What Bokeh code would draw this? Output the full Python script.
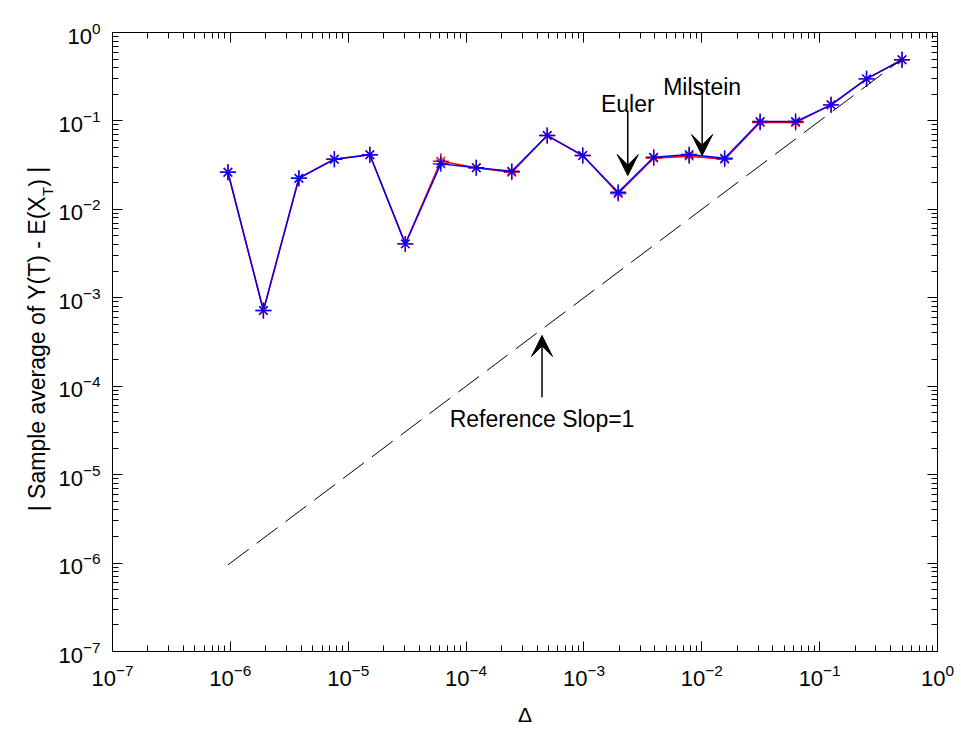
from bokeh.plotting import figure
from bokeh.layouts import row
from bokeh.models import (Range1d, LogAxis, FixedTicker, Label, Arrow, VeeHead,
                          CustomJSTickFormatter)
from bokeh.embed import file_html
from bokeh.resources import INLINE

# Step sizes (Delta = 2^-20 ... 2^-1)
delta = [9.5367e-07, 1.9073e-06, 3.8147e-06, 7.6294e-06, 1.5259e-05,
         3.0518e-05, 6.1035e-05, 1.2207e-04, 2.4414e-04, 4.8828e-04,
         9.7656e-04, 1.9531e-03, 3.9063e-03, 7.8125e-03, 1.5625e-02,
         3.1250e-02, 6.2500e-02, 0.125, 0.25, 0.5]

# |sample mean of Y(T) - E(X_T)| for each scheme
milstein_err = [0.0263, 0.000718, 0.0225, 0.0369, 0.0414,
                0.00407, 0.0327, 0.0295, 0.0270, 0.0684,
                0.0406, 0.0156, 0.0389, 0.0417, 0.0379,
                0.0985, 0.0985, 0.152, 0.299, 0.491]
euler_err = [0.0263, 0.000718, 0.0225, 0.0369, 0.0414,
             0.00407, 0.0350, 0.0295, 0.0262, 0.0684,
             0.0406, 0.0151, 0.0380, 0.0400, 0.0368,
             0.0960, 0.0960, 0.152, 0.299, 0.491]

# Reference line of slope 1 (error = Delta)
ref_delta = [9.5367e-07, 0.5]
ref_err = [9.5367e-07, 0.5]

# Decade ticks on both axes
tick_exponents = [-7, -6, -5, -4, -3, -2, -1, 0]

FONT = "Liberation Sans"
BLUE = "#0000ff"
RED = "#ff0000"
W_TOTAL, H_TOTAL = 961, 729
LABEL_W = 55                 # strip holding the rotated y-axis title
TOP, BOTTOM = 32, 78         # borders above / below the plotting frame

p = figure(width=W_TOTAL - LABEL_W, height=H_TOTAL,
           x_axis_type="log", y_axis_type="log",
           x_range=Range1d(1e-7, 1.0), y_range=Range1d(1e-7, 1.0),
           output_backend="svg", toolbar_location=None,
           min_border_left=112 - LABEL_W, min_border_right=24,
           min_border_top=TOP, min_border_bottom=BOTTOM)
p.background_fill_color = "white"
p.border_fill_color = "white"
p.outline_line_color = "black"
p.outline_line_width = 1
p.xgrid.visible = False
p.ygrid.visible = False

major = [10.0 ** e for e in tick_exponents]
minor = [m * 10.0 ** e for e in tick_exponents[:-1] for m in range(2, 10)]

x_bottom = p.below[0]
y_left = p.left[0]
x_top = LogAxis(formatter=CustomJSTickFormatter(code="return ''"),
                major_label_text_font_size="1px", major_label_standoff=0)
y_right = LogAxis(formatter=CustomJSTickFormatter(code="return ''"),
                  major_label_text_font_size="1px", major_label_standoff=0)
p.add_layout(x_top, "above")
p.add_layout(y_right, "right")

for ax in (x_bottom, y_left, x_top, y_right):
    ax.ticker = FixedTicker(ticks=major, minor_ticks=minor)
    ax.axis_line_color = "black"
    ax.major_tick_line_color = "black"
    ax.minor_tick_line_color = "black"
    ax.major_tick_in = 10
    ax.major_tick_out = 0
    ax.minor_tick_in = 6
    ax.minor_tick_out = 0

for ax in (x_bottom, y_left):
    ax.major_label_text_font = FONT
    ax.major_label_text_color = "black"
    ax.major_label_text_font_size = "22px"
    ax.major_label_standoff = 12

x_bottom.axis_label = "\u0394"
x_bottom.axis_label_text_font = FONT
x_bottom.axis_label_text_font_size = "21px"
x_bottom.axis_label_text_font_style = "normal"
x_bottom.axis_label_text_color = "black"
x_bottom.axis_label_standoff = 14

# Euler (red) underneath, Milstein (blue) on top
p.line(delta, euler_err, line_color=RED, line_width=1.6)
p.scatter(delta, euler_err, marker="cross", size=16, line_color=RED, line_width=1.4)
p.scatter(delta, euler_err, marker="x", size=12, line_color=RED, line_width=1.4)

p.line(delta, milstein_err, line_color=BLUE, line_width=1.4)
p.scatter(delta, milstein_err, marker="cross", size=16, line_color=BLUE, line_width=1.4)
p.scatter(delta, milstein_err, marker="x", size=12, line_color=BLUE, line_width=1.4)

p.line(ref_delta, ref_err, line_color="black", line_width=1, line_dash="26 10")

# Annotations with arrows
ANN = 23
arrows = [
    # (x, tail_y, tip_y, text, text_y)
    (2.355e-3, 0.131, 0.0241, "Euler", 0.156),
    (1.007e-2, 0.208, 0.0406, "Milstein", 0.241),
    (4.41e-4, 7.52e-5, 3.75e-4, "Reference Slop=1", 4.31e-5),
]
for ax_, ty, hy, txt, txt_y in arrows:
    p.add_layout(Arrow(x_start=ax_, y_start=ty, x_end=ax_, y_end=hy,
                       line_color="black", line_width=1.5,
                       end=VeeHead(size=21, fill_color="black",
                                   line_color="black", line_width=1)))
    p.add_layout(Label(x=ax_, y=txt_y, text=txt, text_font=FONT,
                       text_font_size=f"{ANN}px", text_align="center",
                       text_baseline="alphabetic", text_color="black"))

# --- y-axis title with a subscript, drawn in a narrow strip on the left ---
W = {' ': .278, '|': .26, '-': .333, '(': .333, ')': .333, 'S': .667, 'a': .556,
     'm': .833, 'p': .556, 'l': .222, 'e': .556, 'v': .5, 'r': .333, 'g': .556,
     'o': .556, 'f': .278, 'Y': .667, 'T': .611, 'E': .667, 'X': .667}


def width(s, size):
    return sum(W.get(c, .556) for c in s) * size


frame_bottom = H_TOTAL - BOTTOM
strip = figure(width=LABEL_W, height=H_TOTAL, x_range=Range1d(0, LABEL_W),
               y_range=Range1d(frame_bottom, TOP), x_axis_location=None,
               y_axis_location=None, output_backend="svg",
               toolbar_location=None, min_border_left=0, min_border_right=0,
               min_border_top=TOP, min_border_bottom=BOTTOM)
strip.outline_line_color = None
strip.background_fill_color = "white"
strip.border_fill_color = "white"
strip.grid.visible = False

YL, SUBL = 23, 15
part1, part2, part3 = "| Sample average of Y(T) - E(X", "T", ") |"
w1, w2, w3 = width(part1, YL), width(part2, SUBL), width(part3, YL)
centre = (TOP + frame_bottom) / 2 - 3
start = centre + (w1 + w2 + w3) / 2
for txt, size, bx, by in [(part1, YL, 37, start),
                          (part2, SUBL, 47, start - w1),
                          (part3, YL, 37, start - w1 - w2)]:
    strip.add_layout(Label(x=bx, y=by, text=txt, text_font=FONT,
                           text_font_size=f"{size}px", text_align="left",
                           text_baseline="alphabetic", angle=1.5708,
                           text_color="black"))

layout = row(strip, p, spacing=0)
open("out.html", "w").write(file_html(layout, INLINE))
